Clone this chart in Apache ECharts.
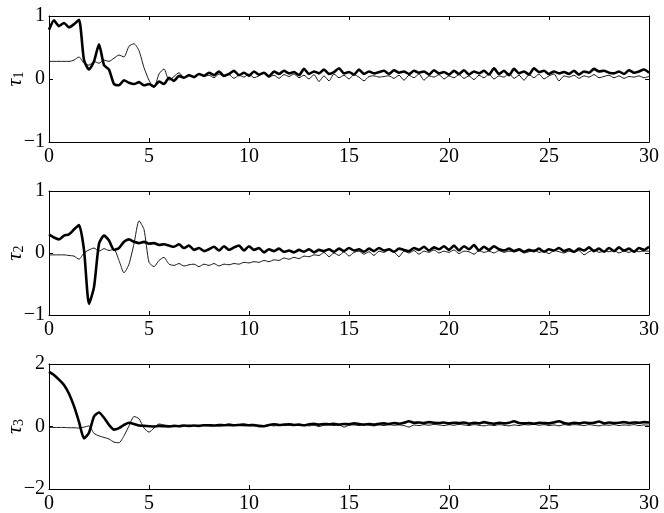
<!DOCTYPE html>
<html>
<head>
<meta charset="utf-8">
<script src="https://cdn.jsdelivr.net/npm/echarts@6/dist/echarts.min.js"></script>
<style>
	html, body { margin: 0; padding: 0; background: #fff; }
	#chart { width: 664px; height: 513px; }
</style>
</head>
<body>
<div id="chart"></div>
<script>
// samples every 0.25 s, 0..30 (8 values per row = 2 s)
const tStep = 0.25;

const tau1Thick = [
	0.78, 0.93, 0.84, 0.89, 0.82, 0.87, 0.94, 0.30,
	0.15, 0.28, 0.55, 0.22, 0.15, -0.08, -0.10, -0.02,
	-0.06, -0.08, -0.05, -0.10, -0.08, -0.12, -0.04, -0.08,
	0.02, -0.03, 0.05, 0.02, 0.06, 0.03, 0.08, 0.05,
	0.10, 0.06, 0.12, 0.05, 0.08, 0.13, 0.06, 0.10,
	0.05, 0.12, 0.07, 0.10, 0.04, 0.12, 0.08, 0.13,
	0.09, 0.11, 0.06, 0.16, 0.08, 0.12, 0.09, 0.15,
	0.08, 0.11, 0.17, 0.09, 0.11, 0.07, 0.15, 0.08,
	0.12, 0.09, 0.11, 0.13, 0.08, 0.14, 0.10, 0.12,
	0.08, 0.13, 0.10, 0.12, 0.07, 0.14, 0.09, 0.11,
	0.07, 0.13, 0.08, 0.14, 0.07, 0.12, 0.09, 0.13,
	0.07, 0.17, 0.08, 0.13, 0.06, 0.16, 0.09, 0.12,
	0.07, 0.17, 0.11, 0.13, 0.08, 0.12, 0.09, 0.11,
	0.08, 0.13, 0.07, 0.12, 0.10, 0.16, 0.12, 0.13,
	0.10, 0.09, 0.12, 0.08, 0.14, 0.10, 0.12, 0.15,
	0.10
];
const tau1Thin = [
	0.28, 0.28, 0.28, 0.28, 0.28, 0.30, 0.35, 0.25,
	0.22, 0.28, 0.25, 0.30, 0.28, 0.33, 0.38, 0.35,
	0.52, 0.56, 0.45, 0.18, -0.02, -0.14, 0.08, 0.16,
	-0.02, 0.04, 0.10, 0.02, 0.07, 0.03, 0.08, 0.04,
	0.06, 0.02, 0.08, 0.04, 0.07, 0.01, 0.06, 0.03,
	0.08, 0.02, 0.05, 0.09, 0.03, 0.06, 0.01, 0.07,
	0.04, 0.08, 0.02, 0.06, 0.00, 0.07, -0.04, 0.05,
	-0.03, 0.08, 0.02, 0.06, 0.00, 0.07, 0.03, -0.03,
	0.04, 0.05, 0.03, 0.04, 0.05, 0.01, 0.06, -0.02,
	0.06, 0.02, 0.08, -0.02, 0.05, 0.03, 0.07, 0.00,
	0.05, 0.02, 0.07, 0.01, 0.05, -0.01, 0.06, 0.02,
	0.08, 0.00, 0.05, 0.03, 0.09, 0.01, 0.06, -0.02,
	0.07, 0.02, 0.08, 0.00, 0.05, 0.08, -0.03, 0.05,
	0.03, 0.06, 0.01, 0.05, 0.03, 0.07, 0.02, 0.04,
	0.06, 0.02, 0.05, 0.01, 0.04, 0.03, 0.05, 0.02,
	0.04
];
const tau2Thick = [
	0.30, 0.25, 0.22, 0.28, 0.30, 0.38, 0.45, 0.05,
	-0.82, -0.55, 0.15, 0.28, 0.20, 0.05, 0.08, 0.18,
	0.22, 0.18, 0.16, 0.18, 0.15, 0.16, 0.13, 0.14,
	0.12, 0.10, 0.14, 0.08, 0.12, 0.05, 0.08, 0.03,
	0.06, 0.10, 0.04, 0.11, 0.05, 0.09, 0.12, 0.04,
	0.11, 0.05, 0.08, 0.01, 0.06, 0.03, 0.07, 0.02,
	0.04, 0.01, 0.05, 0.02, 0.06, 0.01, 0.05, 0.03,
	0.06, 0.02, 0.07, 0.03, 0.08, 0.04, 0.06, 0.02,
	0.07, 0.03, 0.08, 0.04, 0.06, 0.02, 0.07, 0.05,
	0.03, 0.08, 0.05, 0.10, 0.04, 0.09, 0.06, 0.11,
	0.05, 0.12, 0.04, 0.11, 0.06, 0.13, 0.04, 0.10,
	0.05, 0.11, 0.06, 0.04, 0.07, 0.03, 0.06, 0.02,
	0.05, 0.03, 0.07, 0.02, 0.06, 0.04, 0.08, 0.03,
	0.06, 0.02, 0.07, 0.04, 0.09, 0.03, 0.07, 0.02,
	0.08, 0.03, 0.09, 0.04, 0.07, 0.02, 0.08, 0.05,
	0.10
];
const tau2Thin = [
	-0.03, -0.03, -0.03, -0.03, -0.04, -0.05, -0.10, 0.00,
	0.05, 0.08, 0.03, 0.07, 0.04, 0.06, -0.12, -0.32,
	-0.18, 0.15, 0.52, 0.38, -0.15, -0.22, -0.12, -0.07,
	-0.18, -0.20, -0.17, -0.21, -0.19, -0.18, -0.22, -0.18,
	-0.20, -0.17, -0.21, -0.18, -0.19, -0.17, -0.18, -0.15,
	-0.16, -0.14, -0.15, -0.12, -0.14, -0.11, -0.12, -0.08,
	-0.10, -0.07, -0.09, -0.05, -0.06, -0.03, -0.04, 0.01,
	-0.06, 0.00, -0.04, 0.02, -0.05, 0.01, 0.03, -0.02,
	0.02, -0.04, 0.03, 0.01, 0.05, 0.02, -0.06, 0.03,
	0.00, 0.04, -0.02, 0.03, 0.01, 0.05, 0.00, 0.03,
	0.01, 0.05, -0.01, 0.03, 0.02, -0.02, 0.04, 0.01,
	0.03, 0.00, 0.04, 0.01, 0.03, 0.02, 0.04, 0.00,
	0.02, 0.05, 0.01, 0.03, -0.01, 0.04, 0.02, 0.00,
	0.03, 0.01, 0.04, -0.03, 0.02, 0.05, 0.01, 0.03,
	0.02, 0.04, 0.00, 0.03, 0.01, 0.04, 0.02, 0.03,
	0.03
];
const tau3Thick = [
	1.75, 1.65, 1.50, 1.33, 1.05, 0.65, 0.15, -0.38,
	-0.20, 0.32, 0.45, 0.28, 0.05, -0.10, -0.05, 0.05,
	0.12, 0.08, 0.03, 0.02, 0.01, 0.00, 0.02, 0.01,
	0.00, 0.02, 0.01, 0.03, 0.02, 0.03, 0.02, 0.04,
	0.04, 0.03, 0.05, 0.04, 0.06, 0.04, 0.05, 0.06,
	0.04, 0.05, 0.02, 0.01, 0.05, 0.07, 0.05, 0.06,
	0.07, 0.05, 0.06, 0.04, 0.07, 0.09, 0.06, 0.08,
	0.07, 0.09, 0.06, 0.08, 0.07, 0.10, 0.08, 0.06,
	0.08, 0.06, 0.09, 0.10, 0.08, 0.11, 0.09, 0.12,
	0.17, 0.12, 0.13, 0.11, 0.14, 0.12, 0.11, 0.13,
	0.10, 0.12, 0.11, 0.13, 0.09, 0.12, 0.10, 0.14,
	0.11, 0.09, 0.12, 0.10, 0.12, 0.17, 0.11, 0.10,
	0.11, 0.09, 0.12, 0.11, 0.10, 0.13, 0.17, 0.11,
	0.09, 0.12, 0.10, 0.13, 0.11, 0.12, 0.16, 0.10,
	0.13, 0.11, 0.12, 0.14, 0.11, 0.13, 0.12, 0.14,
	0.13
];
const tau3Thin = [
	-0.03, -0.03, -0.03, -0.03, -0.04, -0.04, -0.05, -0.02,
	0.02, -0.22, -0.30, -0.35, -0.40, -0.50, -0.52, -0.30,
	0.02, 0.32, 0.25, -0.05, -0.18, -0.05, 0.08, 0.05,
	0.03, 0.01, 0.03, 0.02, 0.01, 0.03, 0.02, 0.03,
	0.02, 0.03, 0.01, 0.04, 0.02, 0.03, 0.04, 0.02,
	0.03, 0.02, -0.01, 0.03, 0.04, 0.02, 0.05, 0.03,
	0.04, 0.05, 0.03, 0.06, 0.02, 0.04, 0.00, 0.04,
	0.05, 0.03, 0.06, -0.02, 0.04, 0.05, 0.03, 0.06,
	0.04, 0.02, 0.05, 0.03, 0.06, 0.04, 0.05, 0.03,
	-0.02, 0.05, 0.03, 0.06, 0.04, 0.07, 0.05, 0.03,
	0.06, 0.04, 0.07, 0.05, 0.03, 0.06, 0.04, 0.02,
	0.05, 0.03, 0.06, 0.04, 0.02, 0.05, 0.03, 0.06,
	0.05, 0.07, 0.04, 0.06, 0.03, 0.05, 0.02, 0.06,
	0.04, 0.06, 0.05, 0.03, 0.06, 0.04, 0.02, 0.05,
	0.04, 0.06, 0.03, 0.05, 0.04, 0.06, 0.03, 0.05,
	0.04
];

const panels = [
	{ sub: '1', lim: 1, thick: tau1Thick, thin: tau1Thin, top: 16, height: 126 },
	{ sub: '2', lim: 1, thick: tau2Thick, thin: tau2Thin, top: 191, height: 124 },
	{ sub: '3', lim: 2, thick: tau3Thick, thin: tau3Thin, top: 364, height: 125 }
];

const serif = 'Liberation Serif';
const pairs = arr => arr.map((v, i) => [i * tStep, v]);
const minus = v => String(v).replace('-', '\u2212');

let grid = [], xAxis = [], yAxis = [], series = [];
panels.forEach((p, k) => {
	grid.push({ left: 49, right: 15, top: p.top, height: p.height, containLabel: false, outerBoundsMode: 'none' });
	let tick = { show: true, inside: true, length: 4, lineStyle: { color: '#000', width: 1 } };
	let line = { show: true, onZero: false, lineStyle: { color: '#000', width: 1 } };
	// bottom + mirrored top
	xAxis.push({
		type: 'value', gridIndex: k, min: 0, max: 30, interval: 5, position: 'bottom',
		axisLine: line, axisTick: tick, splitLine: { show: false },
		axisLabel: { color: '#000', fontFamily: serif, fontSize: 20, margin: 5 }
	});
	xAxis.push({
		type: 'value', gridIndex: k, min: 0, max: 30, interval: 5, position: 'top',
		axisLine: line, axisTick: tick, splitLine: { show: false }, axisLabel: { show: false }
	});
	yAxis.push({
		type: 'value', gridIndex: k, min: -p.lim, max: p.lim, interval: p.lim, position: 'left',
		axisLine: line, axisTick: tick, splitLine: { show: false },
		axisLabel: { color: '#000', fontFamily: serif, fontSize: 20, margin: 4, formatter: minus },
		name: '{t|\u03c4}{s|' + p.sub + '}',
		nameLocation: 'middle', nameRotate: 90, nameGap: 23, nameMoveOverlap: false,
		nameTextStyle: {
			rich: {
				t: { fontFamily: serif, fontStyle: 'italic', fontSize: 22, color: '#000', lineHeight: 22 },
				s: { fontFamily: serif, fontSize: 14, color: '#000', lineHeight: 22, verticalAlign: 'bottom', padding: [8, 0, 0, 0] }
			}
		}
	});
	yAxis.push({
		type: 'value', gridIndex: k, min: -p.lim, max: p.lim, interval: p.lim, position: 'right',
		axisLine: line, axisTick: tick, splitLine: { show: false }, axisLabel: { show: false }
	});
	series.push({
		type: 'line', xAxisIndex: 2 * k, yAxisIndex: 2 * k, data: pairs(p.thin),
		showSymbol: false, smooth: 0.2, lineStyle: { color: '#1a1a1a', width: 1 }
	});
	series.push({
		type: 'line', xAxisIndex: 2 * k, yAxisIndex: 2 * k, data: pairs(p.thick),
		showSymbol: false, smooth: 0.2, lineStyle: { color: '#000', width: 2.6 }
	});
});

let chart = echarts.init(document.getElementById('chart'));
chart.setOption({
	animation: false,
	backgroundColor: '#fff',
	grid: grid,
	xAxis: xAxis,
	yAxis: yAxis,
	series: series
});
</script>
</body>
</html>
